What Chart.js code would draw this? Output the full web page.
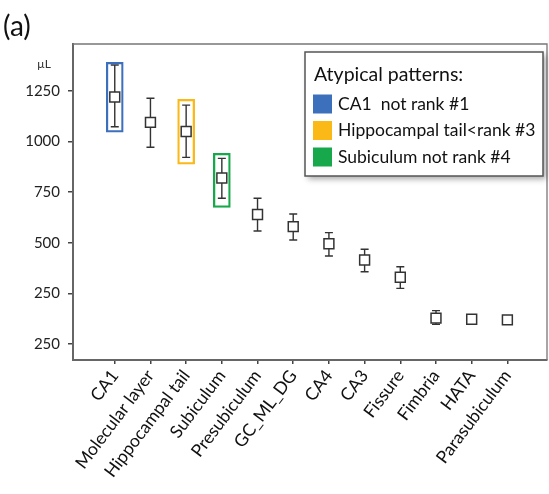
<!DOCTYPE html>
<html>
<head>
<meta charset="utf-8">
<script src="https://cdn.jsdelivr.net/npm/chart.js@4/dist/chart.umd.min.js"></script>
<style>
html,body{margin:0;padding:0;background:#fff;}
#c{display:block;}
</style>
</head>
<body>
<canvas id="c" width="549" height="494"></canvas>
<script>
// ---- data ----
const categories = ['CA1','Molecular layer','Hippocampal tail','Subiculum','Presubiculum','GC_ML_DG','CA4','CA3','Fissure','Fimbria','HATA','Parasubiculum'];
const means = [1220, 1095, 1050, 820, 640, 580, 495, 415, 330, 128, 122, 119];
const upper = [1378, 1214, 1180, 917, 720, 642, 550, 468, 382, 165, null, null];
const lower = [1073, 972, 922, 720, 558, 514, 435, 357, 275, 97, null, null];
const yTickValues = [0, 250, 500, 750, 1000, 1250];
const yTickLabels = ['250', '250', '500', '750', '1000', '1250'];
const highlightLabels = ['CA1  not rank #1', 'Hippocampal tail<rank #3', 'Subiculum not rank #4'];
const highlightIndex = [0, 2, 3];
const highlightLow = [1046, 888, 675];
const highlightHigh = [1392, 1209, 942];
const highlightColors = ['#3d70bc', '#fbb917', '#17a84b'];
const legendTitle = 'Atypical patterns:';
const unitLabel = 'µL';
const panelLabel = '(a)';

const FONT = 'Lato, "Open Sans", sans-serif';

const errorBarPlugin = {
  id: 'errorBars',
  beforeDatasetsDraw(chart) {
    const {ctx, scales: {x, y}} = chart;
    ctx.save();
    ctx.strokeStyle = '#333';
    ctx.lineWidth = 1.4;
    for (let i = 0; i < categories.length; i++) {
      if (upper[i] == null || lower[i] == null) continue;
      const px = x.getPixelForValue(i);
      const yt = y.getPixelForValue(upper[i]);
      const yb = y.getPixelForValue(lower[i]);
      ctx.beginPath();
      ctx.moveTo(px, yt); ctx.lineTo(px, yb);
      ctx.moveTo(px - 4, yt); ctx.lineTo(px + 4, yt);
      ctx.moveTo(px - 4, yb); ctx.lineTo(px + 4, yb);
      ctx.stroke();
    }
    ctx.restore();
  }
};

const framePlugin = {
  id: 'frame',
  afterDraw(chart) {
    const {ctx, chartArea: a} = chart;
    ctx.save();
    ctx.strokeStyle = '#777';
    ctx.lineWidth = 1.3;
    ctx.beginPath();
    ctx.moveTo(a.left, a.top); ctx.lineTo(a.right, a.top); ctx.lineTo(a.right, a.bottom);
    ctx.stroke();
    ctx.fillStyle = '#111';
    ctx.font = '28px ' + FONT;
    ctx.textAlign = 'left';
    ctx.textBaseline = 'alphabetic';
    ctx.fillText(panelLabel, 3, 36);
    ctx.font = '12px ' + FONT;
    ctx.textAlign = 'right';
    ctx.textBaseline = 'middle';
    ctx.fillStyle = '#333';
    ctx.fillText(unitLabel, a.left - 22, a.top + 20);

    const w = 238, h = 124;
    const lx = a.right - 4 - w, ly = a.top + 8;
    ctx.save();
    ctx.shadowColor = 'rgba(0,0,0,0.35)';
    ctx.shadowBlur = 6;
    ctx.shadowOffsetX = 3;
    ctx.shadowOffsetY = 3;
    ctx.fillStyle = '#fff';
    ctx.fillRect(lx, ly, w, h);
    ctx.restore();
    ctx.strokeStyle = '#555';
    ctx.lineWidth = 1.5;
    ctx.strokeRect(lx, ly, w, h);
    ctx.fillStyle = '#111';
    ctx.textAlign = 'left';
    ctx.textBaseline = 'middle';
    ctx.font = '19.5px ' + FONT;
    ctx.fillText(legendTitle, lx + 9, ly + 23);
    ctx.font = '17.5px ' + FONT;
    const ds = chart.data.datasets.filter(d => d.isHighlight);
    ds.forEach((d, k) => {
      const cy = ly + 52 + k * 26.5;
      ctx.fillStyle = d.borderColor;
      ctx.fillRect(lx + 8, cy - 9.5, 19, 19);
      ctx.fillStyle = '#111';
      ctx.fillText(d.label, lx + 33, cy);
    });
    ctx.restore();
  }
};

const datasets = [{
  type: 'line',
  label: 'volume',
  data: means.map((m, i) => ({x: i, y: m})),
  showLine: false,
  pointStyle: 'rect',
  pointRadius: 7,
  pointHoverRadius: 7,
  pointBackgroundColor: '#fff',
  pointBorderColor: '#333',
  pointBorderWidth: 1.5,
  order: 0
}];
highlightIndex.forEach((idx, k) => {
  datasets.push({
    type: 'bar',
    label: highlightLabels[k],
    isHighlight: true,
    data: [{x: idx, y: [highlightLow[k], highlightHigh[k]]}],
    backgroundColor: 'rgba(0,0,0,0)',
    borderColor: highlightColors[k],
    borderWidth: 1.6,
    borderSkipped: false,
    barThickness: 17,
    grouped: false,
    order: 1
  });
});

new Chart(document.getElementById('c'), {
  data: {datasets},
  options: {
    responsive: false,
    animation: false,
    devicePixelRatio: 1,
    layout: {autoPadding: false, padding: {top: 44, right: 2, left: 0, bottom: 0}},
    plugins: {legend: {display: false}, tooltip: {enabled: false}},
    scales: {
      x: {
        type: 'linear',
        offset: false,
        min: -1.17,
        max: 12.11,
        afterBuildTicks(s) { s.ticks = categories.map((c, i) => ({value: i})); },
        afterFit(s) { s.height = 134; s.paddingLeft = 0; s.paddingRight = 0; },
        ticks: {
          callback: (v) => categories[v],
          autoSkip: false,
          maxRotation: 53,
          minRotation: 53,
          color: '#111',
          font: {family: FONT, size: 17.5},
          padding: 2
        },
        grid: {display: true, offset: false, drawOnChartArea: false, drawTicks: true, tickLength: 4, color: '#444', lineWidth: 1.5},
        border: {display: true, color: '#666', width: 2}
      },
      y: {
        type: 'linear',
        min: -79,
        max: 1482,
        afterBuildTicks(s) { s.ticks = yTickValues.map(v => ({value: v})); },
        afterFit(s) { s.width = 73; },
        ticks: {
          callback: (v) => yTickLabels[yTickValues.indexOf(v)],
          color: '#222',
          font: {family: FONT, size: 15},
          padding: 8
        },
        grid: {display: true, drawOnChartArea: false, drawTicks: true, tickLength: 5, color: '#444', lineWidth: 1.5},
        border: {display: true, color: '#666', width: 2}
      }
    }
  },
  plugins: [errorBarPlugin, framePlugin]
});
</script>
</body>
</html>
